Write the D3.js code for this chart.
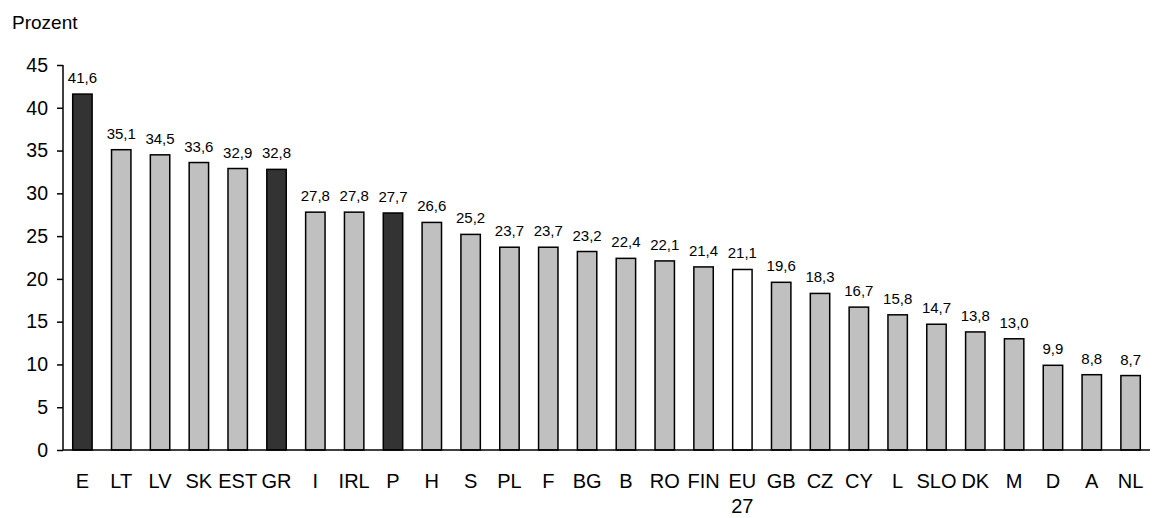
<!DOCTYPE html>
<html>
<head>
<meta charset="utf-8">
<script src="https://cdn.jsdelivr.net/npm/d3@7"></script>
<style>
  body { margin: 0; background: #fff; }
  text { font-family: Arial, "Liberation Sans", sans-serif; fill: #000; }
</style>
</head>
<body>
<svg id="chart" width="1155" height="518"></svg>
<script>
const countries = ['E', 'LT', 'LV', 'SK', 'EST', 'GR', 'I', 'IRL', 'P', 'H', 'S', 'PL', 'F', 'BG',
  'B', 'RO', 'FIN', 'EU 27', 'GB', 'CZ', 'CY', 'L', 'SLO', 'DK', 'M', 'D', 'A', 'NL']
const values = [41.6, 35.1, 34.5, 33.6, 32.9, 32.8, 27.8, 27.8, 27.7, 26.6, 25.2, 23.7, 23.7, 23.2,
  22.4, 22.1, 21.4, 21.1, 19.6, 18.3, 16.7, 15.8, 14.7, 13.8, 13.0, 9.9, 8.8, 8.7]
const highlighted = ['E', 'GR', 'P']
const average = ['EU 27']
const yTicks = [0, 5, 10, 15, 20, 25, 30, 35, 40, 45]

const data = countries.map((c, i) => ({ country: c, value: values[i] }))

const margin = { top: 65, right: 5, bottom: 68, left: 63 }
const width = 1155, height = 518

const svg = d3.select('#chart')

const x = d3.scaleBand()
  .domain(countries)
  .range([margin.left, width - margin.right])
  .paddingInner(0.5)
  .paddingOuter(0.25)

const y = d3.scaleLinear()
  .domain([0, 45])
  .range([height - margin.bottom, margin.top])

const fmt = v => d3.format('.1f')(v).replace('.', ',')

function fill(d) {
  if (highlighted.includes(d.country)) return '#333333'
  if (average.includes(d.country)) return '#ffffff'
  return '#c0c0c0'
}

// bars
svg.append('g')
  .selectAll('rect')
  .data(data)
  .enter().append('rect')
    .attr('x', d => x(d.country))
    .attr('width', x.bandwidth())
    .attr('y', d => y(d.value))
    .attr('height', d => y(0) - y(d.value))
    .attr('fill', fill)
    .attr('stroke', '#000')
    .attr('stroke-width', 1.5)

// value labels
svg.append('g')
  .selectAll('text')
  .data(data)
  .enter().append('text')
    .attr('x', d => x(d.country) + x.bandwidth() / 2)
    .attr('y', d => y(d.value) - 11)
    .attr('text-anchor', 'middle')
    .style('font-size', '15px')
    .text(d => fmt(d.value))

// y axis
const yAxis = svg.append('g')
  .attr('transform', `translate(${margin.left},0)`)
  .call(d3.axisLeft(y).tickValues(yTicks).tickSize(6).tickPadding(9).tickFormat(d3.format('d')))
yAxis.select('.domain').attr('stroke', '#000').attr('stroke-width', 1.5).attr('d', `M0,${y(45)}V${y(0)}`)
yAxis.selectAll('.tick line').attr('stroke', '#000').attr('stroke-width', 1.5)
yAxis.selectAll('.tick text').style('font-size', '19.5px').attr('font-family', null)

// baseline
svg.append('line')
  .attr('x1', margin.left).attr('x2', width - margin.right)
  .attr('y1', y(0)).attr('y2', y(0))
  .attr('stroke', '#000').attr('stroke-width', 1.5)

// category labels
const xl = svg.append('g')
  .selectAll('text')
  .data(countries)
  .enter().append('text')
    .attr('x', d => x(d) + x.bandwidth() / 2)
    .attr('y', y(0) + 38)
    .attr('text-anchor', 'middle')
    .style('font-size', '20px')
xl.each(function(d) {
  const parts = d.split(' ')
  parts.forEach((p, i) => {
    d3.select(this).append('tspan')
      .attr('x', x(d) + x.bandwidth() / 2)
      .attr('dy', i === 0 ? 0 : 25)
      .text(p)
  })
})

// unit label
svg.append('text')
  .attr('x', 12)
  .attr('y', 29)
  .style('font-size', '19px')
  .text('Prozent')
</script>
</body>
</html>
